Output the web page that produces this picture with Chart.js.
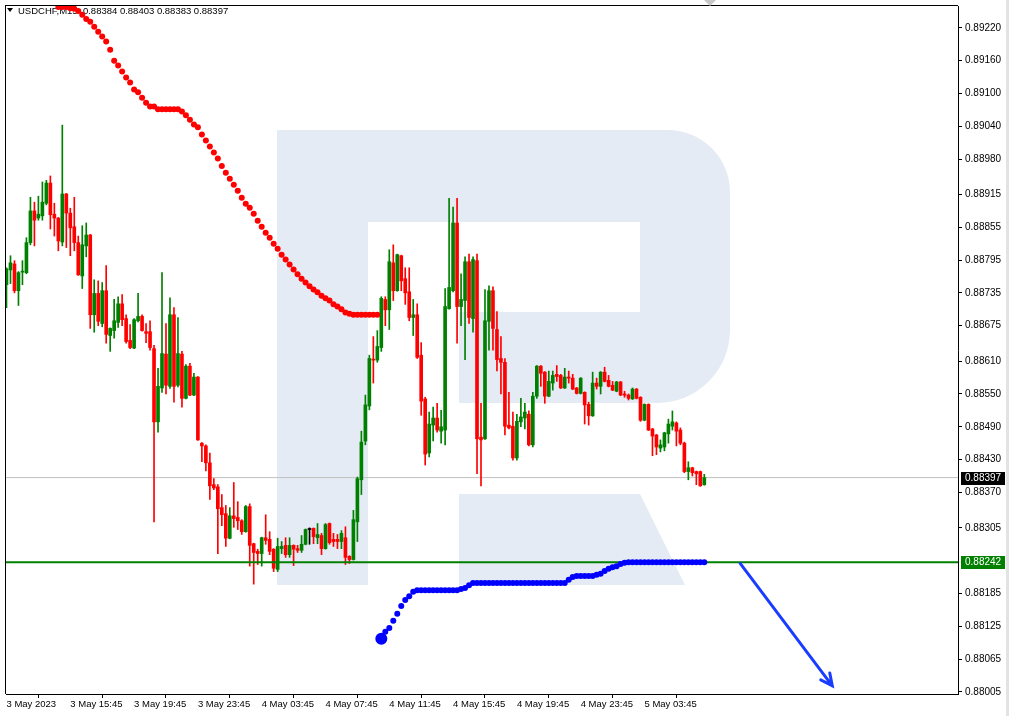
<!DOCTYPE html>
<html>
<head>
<meta charset="utf-8">
<title>USDCHF M15</title>
<script src="https://cdn.jsdelivr.net/npm/chart.js@4.4.1/dist/chart.umd.min.js"></script>
<style>
  html, body { margin: 0; padding: 0; background: #fff; }
  #wrap { width: 1009px; height: 716px; }
</style>
</head>
<body>
<div id="wrap"><canvas id="chart" width="1009" height="716"></canvas></div>
<script>
var symbolTitle = "USDCHF,M15";
var headerValues = ["0.88384", "0.88403", "0.88383", "0.88397"];

// M15 candles, index 0 = 3 May 2023 11:45
var openP = [
  0.88750, 0.88777, 0.88788, 0.88739, 0.88773, 0.88772, 0.88827, 0.88885, 0.88872, 0.88876,
  0.88899, 0.88936, 0.88879, 0.88872, 0.88828, 0.88916, 0.88881, 0.88856, 0.88827, 0.88766,
  0.88821, 0.88841, 0.88695, 0.88734, 0.88679, 0.88739, 0.88657, 0.88666, 0.88681, 0.88715,
  0.88688, 0.88648, 0.88634, 0.88684, 0.88692, 0.88664, 0.88664, 0.88633, 0.88499, 0.88561,
  0.88623, 0.88564, 0.88695, 0.88566, 0.88623, 0.88542, 0.88601, 0.88548, 0.88581, 0.88460,
  0.88455, 0.88424, 0.88384, 0.88380, 0.88342, 0.88331, 0.88286, 0.88327, 0.88324, 0.88318,
  0.88298, 0.88344, 0.88276, 0.88262, 0.88258, 0.88287, 0.88284, 0.88266, 0.88229, 0.88267,
  0.88273, 0.88256, 0.88273, 0.88267, 0.88264, 0.88275, 0.88302, 0.88304, 0.88287, 0.88291,
  0.88267, 0.88313, 0.88284, 0.88284, 0.88280, 0.88287, 0.88253, 0.88247, 0.88316, 0.88393,
  0.88464, 0.88528, 0.88613, 0.88612, 0.88635, 0.88723, 0.88704, 0.88790, 0.88739, 0.88803,
  0.88761, 0.88737, 0.88690, 0.88695, 0.88621, 0.88541, 0.88442, 0.88493, 0.88506, 0.88482,
  0.88484, 0.88706, 0.88739, 0.88863, 0.88710, 0.88721, 0.88792, 0.88688, 0.88794, 0.88471,
  0.88468, 0.88683, 0.88739, 0.88668, 0.88615, 0.88608, 0.88493, 0.88491, 0.88433, 0.88499,
  0.88506, 0.88513, 0.88457, 0.88546, 0.88601, 0.88590, 0.88546, 0.88570, 0.88586, 0.88584,
  0.88561, 0.88581, 0.88579, 0.88561, 0.88551, 0.88553, 0.88531, 0.88510, 0.88570, 0.88564,
  0.88590, 0.88575, 0.88566, 0.88555, 0.88572, 0.88550, 0.88548, 0.88541, 0.88559, 0.88544,
  0.88502, 0.88531, 0.88486, 0.88475, 0.88451, 0.88453, 0.88477, 0.88491, 0.88497, 0.88484,
  0.88460, 0.88408, 0.88415, 0.88408, 0.88408, 0.88384
];
var highP = [
  0.88781, 0.88803, 0.88794, 0.88774, 0.88794, 0.88836, 0.88910, 0.88901, 0.88912, 0.88938,
  0.88941, 0.88949, 0.88899, 0.88873, 0.89042, 0.88917, 0.88890, 0.88910, 0.88839, 0.88858,
  0.88863, 0.88842, 0.88759, 0.88757, 0.88754, 0.88785, 0.88671, 0.88723, 0.88728, 0.88732,
  0.88695, 0.88677, 0.88688, 0.88734, 0.88695, 0.88679, 0.88684, 0.88639, 0.88597, 0.88772,
  0.88679, 0.88726, 0.88708, 0.88690, 0.88628, 0.88604, 0.88606, 0.88588, 0.88582, 0.88461,
  0.88457, 0.88442, 0.88395, 0.88384, 0.88366, 0.88346, 0.88342, 0.88388, 0.88353, 0.88320,
  0.88346, 0.88349, 0.88277, 0.88266, 0.88288, 0.88329, 0.88298, 0.88267, 0.88286, 0.88280,
  0.88287, 0.88287, 0.88274, 0.88273, 0.88291, 0.88303, 0.88305, 0.88305, 0.88313, 0.88295,
  0.88313, 0.88314, 0.88295, 0.88293, 0.88300, 0.88307, 0.88254, 0.88337, 0.88398, 0.88482,
  0.88548, 0.88621, 0.88655, 0.88666, 0.88728, 0.88728, 0.88814, 0.88823, 0.88806, 0.88804,
  0.88781, 0.88781, 0.88723, 0.88715, 0.88644, 0.88544, 0.88517, 0.88526, 0.88533, 0.88520,
  0.88743, 0.88908, 0.88892, 0.88908, 0.88770, 0.88801, 0.88806, 0.88801, 0.88806, 0.88533,
  0.88741, 0.88748, 0.88746, 0.88701, 0.88655, 0.88615, 0.88553, 0.88517, 0.88513, 0.88542,
  0.88533, 0.88519, 0.88553, 0.88602, 0.88602, 0.88591, 0.88592, 0.88592, 0.88602, 0.88586,
  0.88597, 0.88592, 0.88586, 0.88562, 0.88580, 0.88554, 0.88535, 0.88590, 0.88579, 0.88591,
  0.88599, 0.88584, 0.88573, 0.88573, 0.88573, 0.88555, 0.88550, 0.88561, 0.88560, 0.88545,
  0.88532, 0.88532, 0.88487, 0.88476, 0.88466, 0.88480, 0.88504, 0.88519, 0.88499, 0.88488,
  0.88462, 0.88426, 0.88416, 0.88409, 0.88409, 0.88403
];
var lowP = [
  0.88708, 0.88752, 0.88735, 0.88712, 0.88750, 0.88770, 0.88823, 0.88821, 0.88868, 0.88868,
  0.88896, 0.88852, 0.88839, 0.88812, 0.88821, 0.88818, 0.88803, 0.88812, 0.88767, 0.88743,
  0.88801, 0.88670, 0.88663, 0.88675, 0.88673, 0.88643, 0.88628, 0.88652, 0.88672, 0.88675,
  0.88643, 0.88633, 0.88633, 0.88682, 0.88665, 0.88644, 0.88630, 0.88316, 0.88480, 0.88553,
  0.88550, 0.88560, 0.88535, 0.88563, 0.88526, 0.88541, 0.88547, 0.88547, 0.88465, 0.88426,
  0.88409, 0.88357, 0.88375, 0.88258, 0.88309, 0.88271, 0.88285, 0.88306, 0.88302, 0.88293,
  0.88297, 0.88235, 0.88202, 0.88238, 0.88235, 0.88275, 0.88256, 0.88225, 0.88225, 0.88258,
  0.88251, 0.88251, 0.88236, 0.88260, 0.88260, 0.88274, 0.88275, 0.88276, 0.88276, 0.88256,
  0.88266, 0.88275, 0.88271, 0.88267, 0.88267, 0.88238, 0.88240, 0.88246, 0.88280, 0.88366,
  0.88457, 0.88521, 0.88570, 0.88608, 0.88628, 0.88675, 0.88668, 0.88721, 0.88738, 0.88739,
  0.88714, 0.88684, 0.88657, 0.88615, 0.88511, 0.88420, 0.88435, 0.88464, 0.88480, 0.88460,
  0.88457, 0.88705, 0.88737, 0.88643, 0.88675, 0.88613, 0.88679, 0.88663, 0.88404, 0.88382,
  0.88467, 0.88630, 0.88630, 0.88592, 0.88550, 0.88475, 0.88486, 0.88429, 0.88429, 0.88490,
  0.88486, 0.88455, 0.88453, 0.88542, 0.88564, 0.88533, 0.88545, 0.88557, 0.88573, 0.88560,
  0.88560, 0.88570, 0.88558, 0.88550, 0.88550, 0.88495, 0.88493, 0.88509, 0.88559, 0.88550,
  0.88572, 0.88563, 0.88556, 0.88554, 0.88547, 0.88544, 0.88539, 0.88540, 0.88541, 0.88500,
  0.88501, 0.88483, 0.88437, 0.88439, 0.88444, 0.88446, 0.88460, 0.88484, 0.88455, 0.88457,
  0.88406, 0.88393, 0.88400, 0.88384, 0.88381, 0.88383
];
var closeP = [
  0.88779, 0.88790, 0.88739, 0.88772, 0.88774, 0.88827, 0.88885, 0.88868, 0.88879, 0.88901,
  0.88936, 0.88878, 0.88872, 0.88830, 0.88916, 0.88881, 0.88854, 0.88827, 0.88768, 0.88823,
  0.88841, 0.88695, 0.88734, 0.88683, 0.88739, 0.88659, 0.88670, 0.88684, 0.88715, 0.88686,
  0.88646, 0.88635, 0.88686, 0.88692, 0.88666, 0.88661, 0.88635, 0.88499, 0.88564, 0.88624,
  0.88566, 0.88695, 0.88564, 0.88624, 0.88542, 0.88601, 0.88548, 0.88581, 0.88466, 0.88455,
  0.88424, 0.88382, 0.88378, 0.88340, 0.88329, 0.88286, 0.88327, 0.88322, 0.88318, 0.88298,
  0.88344, 0.88273, 0.88260, 0.88258, 0.88287, 0.88282, 0.88262, 0.88231, 0.88271, 0.88271,
  0.88256, 0.88273, 0.88266, 0.88264, 0.88275, 0.88302, 0.88302, 0.88289, 0.88293, 0.88267,
  0.88311, 0.88278, 0.88280, 0.88280, 0.88295, 0.88251, 0.88247, 0.88320, 0.88395, 0.88462,
  0.88530, 0.88615, 0.88612, 0.88637, 0.88725, 0.88704, 0.88792, 0.88739, 0.88805, 0.88757,
  0.88735, 0.88690, 0.88695, 0.88617, 0.88537, 0.88440, 0.88495, 0.88506, 0.88484, 0.88490,
  0.88710, 0.88745, 0.88863, 0.88710, 0.88723, 0.88792, 0.88690, 0.88796, 0.88468, 0.88466,
  0.88684, 0.88739, 0.88670, 0.88613, 0.88608, 0.88491, 0.88488, 0.88433, 0.88500, 0.88508,
  0.88517, 0.88457, 0.88546, 0.88601, 0.88588, 0.88546, 0.88573, 0.88584, 0.88582, 0.88561,
  0.88581, 0.88579, 0.88559, 0.88551, 0.88579, 0.88530, 0.88510, 0.88570, 0.88564, 0.88590,
  0.88573, 0.88564, 0.88557, 0.88572, 0.88548, 0.88548, 0.88542, 0.88559, 0.88542, 0.88502,
  0.88531, 0.88484, 0.88473, 0.88453, 0.88457, 0.88479, 0.88495, 0.88499, 0.88482, 0.88460,
  0.88408, 0.88415, 0.88406, 0.88404, 0.88382, 0.88397
];

// trailing stop dots (red above price, then blue below price)
var upperStopStart = 13;
var upperStop = [
  0.89258, 0.89258, 0.89258, 0.89256, 0.89255, 0.89251, 0.89244, 0.89236, 0.89231, 0.89222,
  0.89213, 0.89204, 0.89195, 0.89180, 0.89160, 0.89151, 0.89140, 0.89129, 0.89120, 0.89107,
  0.89102, 0.89092, 0.89083, 0.89076, 0.89076, 0.89071, 0.89071, 0.89071, 0.89071, 0.89071,
  0.89071, 0.89067, 0.89060, 0.89052, 0.89043, 0.89038, 0.89025, 0.89014, 0.89003, 0.88992,
  0.88981, 0.88967, 0.88955, 0.88944, 0.88933, 0.88922, 0.88909, 0.88898, 0.88891, 0.88880,
  0.88867, 0.88856, 0.88845, 0.88836, 0.88825, 0.88816, 0.88805, 0.88796, 0.88787, 0.88778,
  0.88769, 0.88761, 0.88754, 0.88747, 0.88741, 0.88736, 0.88730, 0.88725, 0.88721, 0.88714,
  0.88710, 0.88705, 0.88699, 0.88697, 0.88695, 0.88695, 0.88695, 0.88695, 0.88695, 0.88695,
  0.88695
];
var lowerStopStart = 94;
var lowerStop = [
  0.88102, 0.88115, 0.88122, 0.88135, 0.88148, 0.88162, 0.88173, 0.88180, 0.88188, 0.88191,
  0.88191, 0.88191, 0.88191, 0.88191, 0.88191, 0.88191, 0.88191, 0.88191, 0.88191, 0.88191,
  0.88193, 0.88195, 0.88200, 0.88204, 0.88204, 0.88204, 0.88204, 0.88204, 0.88204, 0.88204,
  0.88204, 0.88204, 0.88204, 0.88204, 0.88204, 0.88204, 0.88204, 0.88204, 0.88204, 0.88204,
  0.88204, 0.88204, 0.88204, 0.88204, 0.88204, 0.88204, 0.88204, 0.88210, 0.88215, 0.88217,
  0.88217, 0.88217, 0.88217, 0.88217, 0.88219, 0.88221, 0.88226, 0.88230, 0.88233, 0.88235,
  0.88239, 0.88241, 0.88242, 0.88242, 0.88242, 0.88242, 0.88242, 0.88242, 0.88242, 0.88242,
  0.88242, 0.88242, 0.88242, 0.88242, 0.88242, 0.88242, 0.88242, 0.88242, 0.88242, 0.88242,
  0.88242, 0.88242
];

var levelPrice = 0.88242;
var yTicks = [0.89220, 0.89160, 0.89100, 0.89040, 0.88980, 0.88915, 0.88855, 0.88795, 0.88735, 0.88675,
  0.88610, 0.88550, 0.88490, 0.88430, 0.88370, 0.88305, 0.88185, 0.88125, 0.88065, 0.88005];
var xTickIndex = [0, 16, 32, 48, 64, 80, 96, 112, 128, 144, 160];
var xTickLabels = ["3 May 2023", "3 May 15:45", "3 May 19:45", "3 May 23:45", "4 May 03:45", "4 May 07:45",
  "4 May 11:45", "4 May 15:45", "4 May 19:45", "4 May 23:45", "5 May 03:45"];
var arrowFrom = { x: 184, y: 0.88240 };
var arrowTo = { x: 207.1, y: 0.88016 };

var bullColor = "#008000";
var bearColor = "#ff0000";

var wicks = [], bodies = [], candleColors = [];
for (var i = 0; i < openP.length; i++) {
  wicks.push({ x: i, y: [lowP[i], highP[i]] });
  bodies.push({ x: i, y: [openP[i], closeP[i]] });
  candleColors.push(closeP[i] > openP[i] ? bullColor : (closeP[i] < openP[i] ? bearColor : "#000000"));
}
var upperPts = upperStop.map(function (v, k) { return { x: upperStopStart + k, y: v }; });
var lowerPts = lowerStop.map(function (v, k) { return { x: lowerStopStart + k, y: v }; });
var lastClose = closeP[closeP.length - 1];
var xMin = -0.125, xMax = 238.625;

var chartDecor = {
  id: "chartDecor",
  beforeDatasetsDraw: function (chart) {
    var ctx = chart.ctx, a = chart.chartArea;
    ctx.save();
    ctx.beginPath();
    ctx.rect(a.left, a.top, a.right - a.left, a.bottom - a.top);
    ctx.clip();
    // watermark logo
    ctx.fillStyle = "#e5ebf4";
    ctx.beginPath();
    ctx.moveTo(277, 130);
    ctx.lineTo(668, 130);
    ctx.arcTo(730, 130, 730, 192, 62);
    ctx.lineTo(730, 330);
    ctx.arcTo(730, 403, 657, 403, 73);
    ctx.lineTo(459, 403);
    ctx.lineTo(459, 312);
    ctx.lineTo(640, 312);
    ctx.lineTo(640, 222);
    ctx.lineTo(368, 222);
    ctx.lineTo(368, 585);
    ctx.lineTo(277, 585);
    ctx.closePath();
    ctx.moveTo(459, 494);
    ctx.lineTo(640, 494);
    ctx.lineTo(685, 585);
    ctx.lineTo(459, 585);
    ctx.closePath();
    ctx.fill();
    // header
    ctx.fillStyle = "#000";
    ctx.beginPath();
    ctx.moveTo(7, 8); ctx.lineTo(13, 8); ctx.lineTo(10, 12); ctx.closePath();
    ctx.fill();
    ctx.font = "9.5px 'Liberation Sans', Arial, sans-serif";
    ctx.textBaseline = "middle";
    ctx.fillText(symbolTitle + "  " + headerValues.join(" "), 18, 11);
    ctx.restore();
  },
  afterDatasetsDraw: function (chart) {
    var ctx = chart.ctx, xs = chart.scales.x, ys = chart.scales.y;
    var x1 = xs.getPixelForValue(arrowFrom.x), y1 = ys.getPixelForValue(arrowFrom.y);
    var x2 = xs.getPixelForValue(arrowTo.x), y2 = ys.getPixelForValue(arrowTo.y);
    var ang = Math.atan2(y2 - y1, x2 - x1), len = 13;
    ctx.save();
    ctx.strokeStyle = "#1a3cff";
    ctx.lineWidth = 3;
    ctx.lineCap = "round";
    ctx.beginPath();
    ctx.moveTo(x1, y1); ctx.lineTo(x2, y2);
    ctx.moveTo(x2 - len * Math.cos(ang - 0.45), y2 - len * Math.sin(ang - 0.45));
    ctx.lineTo(x2, y2);
    ctx.lineTo(x2 - len * Math.cos(ang + 0.45), y2 - len * Math.sin(ang + 0.45));
    ctx.stroke();
    ctx.restore();
  },
  afterDraw: function (chart) {
    var ctx = chart.ctx, a = chart.chartArea, ys = chart.scales.y;
    ctx.save();
    ctx.fillStyle = "#000";
    ctx.fillRect(a.left - 1, a.top - 1, a.right - a.left + 1, 1);
    ctx.fillRect(a.left - 1, a.top - 1, 1, a.bottom - a.top + 1);
    // shift marker
    ctx.fillStyle = "#c8c8c8";
    ctx.beginPath();
    ctx.moveTo(704, 0); ctx.lineTo(716, 0); ctx.lineTo(710, 6); ctx.closePath();
    ctx.fill();
    ctx.font = "10px 'Liberation Sans', Arial, sans-serif";
    ctx.textBaseline = "middle";
    var boxes = [[lastClose, "#000000"], [levelPrice, bullColor]];
    boxes.forEach(function (b) {
      var y = Math.round(ys.getPixelForValue(b[0]));
      ctx.fillStyle = b[1];
      ctx.fillRect(a.right + 3, y - 6, 44, 13);
      ctx.fillStyle = "#fff";
      ctx.fillText(b[0].toFixed(5), a.right + 7, y + 0.5);
    });
    ctx.fillStyle = "#e3e3e3";
    ctx.fillRect(1006, 0, 3, 716);
    ctx.restore();
  }
};

new Chart("chart", {
  type: "bar",
  data: {
    datasets: [
      {
        type: "line",
        label: "upper stop",
        data: upperPts,
        showLine: false,
        pointRadius: 3,
        pointBorderWidth: 0,
        pointBackgroundColor: "#ff0000",
        order: 0,
      },
      {
        type: "line",
        label: "lower stop",
        data: lowerPts,
        showLine: false,
        pointRadius: function (c) { return c.dataIndex === 0 ? 6 : 3; },
        pointBorderWidth: 0,
        pointBackgroundColor: "#0000ff",
        order: 0,
      },
      {
        type: "line",
        label: "level",
        data: [{ x: xMin, y: levelPrice }, { x: xMax, y: levelPrice }],
        borderColor: bullColor,
        borderWidth: 2,
        pointRadius: 0,
        order: 1,
      },
      {
        label: "body",
        data: bodies,
        backgroundColor: candleColors,
        barThickness: 3,
        minBarLength: 1,
        grouped: false,
        order: 2,
      },
      {
        label: "wick",
        data: wicks,
        backgroundColor: candleColors,
        barThickness: 1,
        grouped: false,
        order: 3,
      },
      {
        type: "line",
        label: "bid",
        data: [{ x: xMin, y: lastClose }, { x: xMax, y: lastClose }],
        borderColor: "#c0c0c0",
        borderWidth: 1,
        pointRadius: 0,
        order: 4,
      },
    ],
  },
  options: {
    responsive: false,
    animation: false,
    events: [],
    layout: { padding: { left: 3, top: 3, right: 0, bottom: 0 } },
    plugins: { legend: { display: false }, tooltip: { enabled: false } },
    scales: {
      x: {
        type: "linear",
        min: xMin,
        max: xMax,
        offset: false,
        afterBuildTicks: function (s) { s.ticks = xTickIndex.map(function (v) { return { value: v }; }); },
        afterFit: function (s) { s.height = 22; s.paddingLeft = 0; s.paddingRight = 0; },
        grid: { drawOnChartArea: false, tickLength: 4, color: "#000" },
        border: { color: "#000" },
        ticks: {
          autoSkip: false, maxRotation: 0, minRotation: 0, align: "start", padding: 1, color: "#000",
          font: { family: "'Liberation Sans', Arial, sans-serif", size: 9.5 },
          callback: function (v, i) { return xTickLabels[i]; },
        },
      },
      y: {
        position: "right",
        min: 0.88001,
        max: 0.89260,
        afterBuildTicks: function (s) { s.ticks = yTicks.map(function (v) { return { value: v }; }); },
        afterFit: function (s) { s.width = 51; s.paddingTop = 0; s.paddingBottom = 0; },
        grid: { drawOnChartArea: false, tickLength: 4, color: "#000" },
        border: { color: "#000" },
        ticks: {
          padding: 3, color: "#000",
          font: { family: "'Liberation Sans', Arial, sans-serif", size: 10 },
          callback: function (v) { return v.toFixed(5); },
        },
      },
    },
  },
  plugins: [chartDecor],
});
</script>
</body>
</html>
